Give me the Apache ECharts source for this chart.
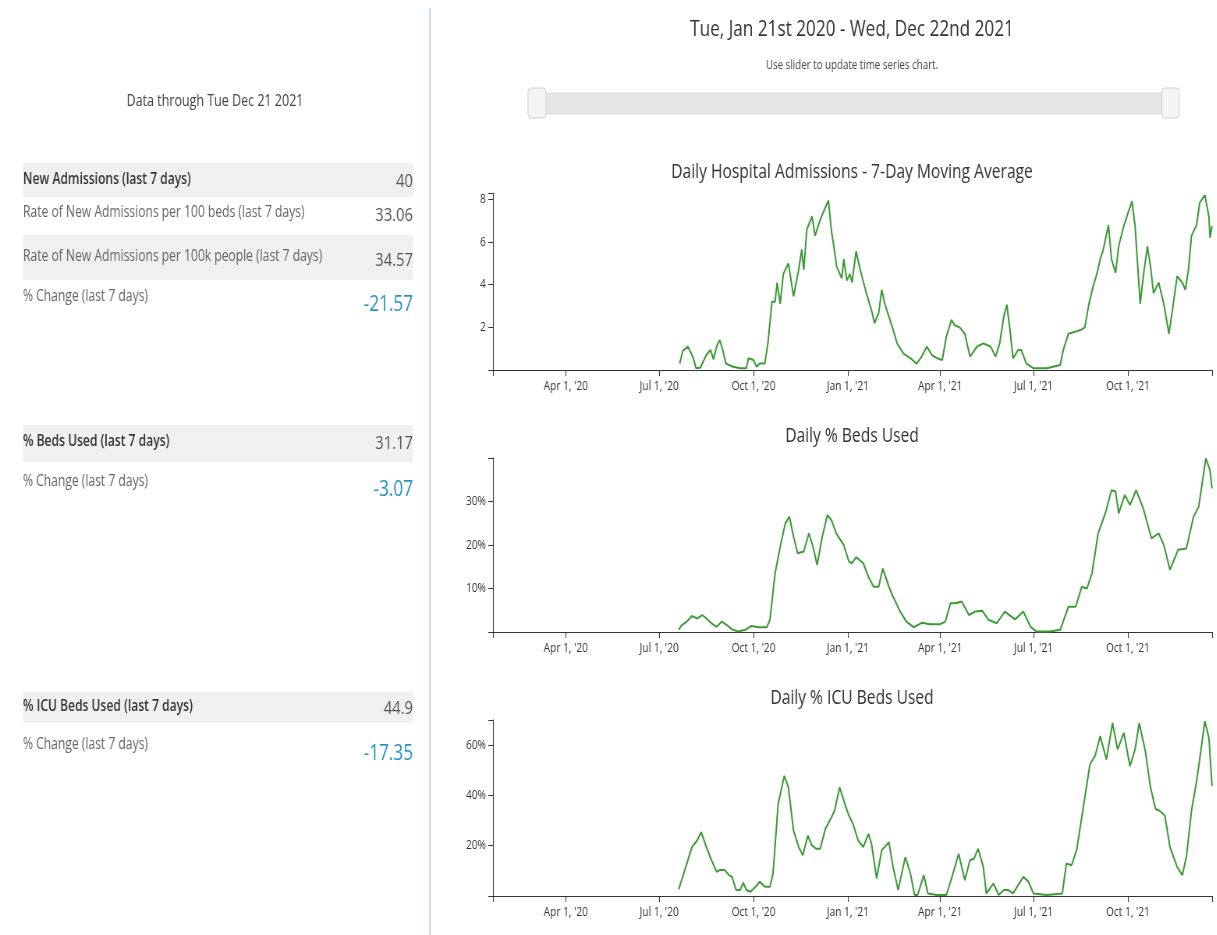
<!DOCTYPE html>
<html><head><meta charset="utf-8">
<script src="https://cdn.jsdelivr.net/npm/echarts@6.0.0/dist/echarts.min.js"></script>
<style>
html,body{margin:0;padding:0;overflow:hidden;background:#fff;width:1217px;height:935px}
#c{height:935px;transform-origin:0 0;}
</style></head><body><div id="c"></div>
<script>
// ---------------- DATA ----------------
const startDate = [2020, 0, 21];   // Tue, Jan 21 2020 (day 0)
const endDate = [2021, 11, 22];    // Wed, Dec 22 2021
const headerTitle = 'Tue, Jan 21st 2020 - Wed, Dec 22nd 2021';
const headerSubtitle = 'Use slider to update time series chart.';
const dataThrough = 'Data through Tue Dec 21 2021';

const summaryLabels = [
  'New Admissions (last 7 days)',
  'Rate of New Admissions per 100 beds (last 7 days)',
  'Rate of New Admissions per 100k people (last 7 days)',
  '% Change (last 7 days)',
  '% Beds Used (last 7 days)',
  '% Change (last 7 days)',
  '% ICU Beds Used (last 7 days)',
  '% Change (last 7 days)'
];
const summaryValues = ['40', '33.06', '34.57', '-21.57', '31.17', '-3.07', '44.9', '-17.35'];

const chartTitles = ['Daily Hospital Admissions - 7-Day Moving Average', 'Daily % Beds Used', 'Daily % ICU Beds Used'];
const monthNames = ['Jan','Feb','Mar','Apr','May','Jun','Jul','Aug','Sep','Oct','Nov','Dec'];
const xTickDates = [[2020,3,1],[2020,6,1],[2020,9,1],[2021,0,1],[2021,3,1],[2021,6,1],[2021,9,1]];
const yMax = [8.3, 40, 70];
const yTickLabels = [[2,4,6,8],[10,20,30],[20,40,60]];

// day offsets from startDate and values
const admDays = [182,185,190,195,198,202,208,212,215,218,221,224,227,234,241,247,249,254,257,260,265,268,272,275,277,280,283,288,293,298,301,303,306,311,314,319,323,327,330,332,335,340,342,345,348,350,354,358,364,369,372,376,379,382,387,390,394,400,407,413,418,423,428,433,438,442,447,450,455,460,465,472,478,485,490,494,498,501,504,507,512,515,520,527,540,553,556,561,568,574,577,581,585,589,592,595,600,603,607,610,615,620,623,626,631,634,638,641,644,649,654,659,662,667,672,675,678,681,686,689,694,698,699,701];
const admVals = [0.3,0.9,1.1,0.6,0.08,0.1,0.7,0.94,0.5,1.1,1.4,0.94,0.3,0.15,0.08,0.08,0.55,0.47,0.15,0.3,0.3,1.25,3.2,3.2,4.1,3.1,4.5,5.0,3.45,4.7,5.65,4.7,6.6,7.2,6.3,7.05,7.5,7.95,6.5,5.9,4.86,4.3,5.2,4.2,4.5,4.1,5.57,4.7,3.6,2.8,2.2,2.67,3.76,3.1,2.35,1.9,1.25,0.78,0.55,0.3,0.63,1.1,0.7,0.55,0.47,1.57,2.35,2.1,2.0,1.7,0.63,1.1,1.25,1.1,0.63,1.25,2.5,3.06,1.9,0.55,0.94,0.94,0.3,0.08,0.08,0.23,0.94,1.7,1.8,1.9,2.0,3.1,3.9,4.55,5.2,5.65,6.8,5.2,4.55,5.8,6.75,7.5,7.9,6.75,3.1,4.4,5.8,4.86,3.6,4.1,3.1,1.7,2.67,4.4,4.1,3.76,4.7,6.3,6.8,7.85,8.2,7.2,6.2,6.75];

const bedDays = [181,184,189,194,199,204,208,213,218,223,228,233,239,246,252,259,267,270,275,280,285,289,293,297,303,308,312,316,321,326,330,335,342,347,350,354,361,366,371,376,380,386,390,397,403,410,418,426,436,441,446,451,457,464,470,477,483,491,499,509,517,524,530,543,553,561,568,574,579,584,590,597,603,607,610,616,621,627,634,642,649,654,660,668,676,683,688,695,699,701];
const bedVals = [0.5,1.6,2.4,3.7,3.1,3.9,3.1,2.0,1.2,2.4,1.6,0.6,0.1,0.5,1.4,1.1,1.1,2.8,13.5,19.6,25,26.5,21.9,18.1,18.5,22.7,19.6,15.4,21.9,26.9,25.7,22.5,20,16.2,15.8,17.2,15.8,12.7,10.4,10.4,14.6,10.4,8.1,4.7,2.4,1.1,2.1,1.8,1.8,2.4,6.6,6.6,7.0,3.9,4.7,4.9,2.8,2.0,4.7,2.9,4.7,1.2,0.1,0.1,0.5,5.8,5.8,10.4,10,13.5,22.7,27.3,32.6,32.3,27.3,31.5,29.2,32.6,28.4,21.5,22.7,20.0,14.3,18.9,19.2,26.5,28.8,39.9,37.2,33];

const icuDays = [181,187,194,199,203,208,213,218,221,226,230,233,237,241,244,247,251,256,260,265,270,273,278,284,288,293,298,302,307,311,315,319,324,330,333,338,343,347,351,356,361,366,369,374,379,386,390,395,402,407,411,414,420,424,433,442,448,454,460,465,469,473,478,481,488,493,498,502,507,512,517,522,527,540,555,559,564,569,576,582,587,592,598,604,609,615,621,626,630,636,641,646,650,655,660,667,672,676,681,686,691,694,698,701];
const icuVals = [2.6,10.3,19.5,22.1,25.4,19.5,14.2,9.6,10.3,10.3,8.3,7.6,2.4,2.4,5.3,2.4,1.7,3.7,5.7,3.7,3.7,8.9,36.6,47.8,43.2,26,19.5,16.2,24,20.1,18.8,18.8,26.7,31.3,34,43.2,36.6,32,28.7,22.1,19.5,24.7,20.8,7,18.2,21.4,11.6,2.4,15.5,8.9,0.4,0.4,8.3,1,0.4,0.4,8.3,16.8,6.3,14.2,14.9,18.8,11.6,1,5,0.4,2.4,2.4,1,4.3,7.6,5.7,1,0.4,1,12.9,12.2,18.2,36.6,52.4,55.7,63.6,54.3,68.8,58.3,64.9,51.7,58.3,68.8,57.6,43.2,34.6,33.9,32,19.5,11.6,8.3,15.5,33.9,45.8,60.3,69.5,62.9,43.8];

// ---------------- RENDER ----------------
const SX = 0.78;                 // horizontal compression of the reference
const W = 1217 / SX;
const X = v => v / SX;
const el = document.getElementById('c');
el.style.width = W + 'px';
el.style.transform = 'scaleX(' + SX + ')';

const toTs = d => new Date(startDate[0], startDate[1], startDate[2] + d).getTime();
const xMin = new Date(startDate[0], startDate[1], startDate[2]).getTime();
const xMax = new Date(endDate[0], endDate[1], endDate[2]).getTime();
const xTicks = xTickDates.map(a => new Date(a[0], a[1], a[2]).getTime());
const fmtDate = v => { const d = new Date(v); return monthNames[d.getMonth()] + ' ' + d.getDate() + ', \'' + String(d.getFullYear()).slice(2); };

const FONT = 'Open Sans';
const AX = '#333';
const LINE = '#3b9a35';
const grids = [
  {left: X(493), top: 193, width: X(719), height: 177},
  {left: X(493), top: 458, width: X(719), height: 174},
  {left: X(493), top: 720, width: X(719), height: 176}
];
const seriesData = [
  admDays.map((d, i) => [toTs(d), admVals[i]]),
  bedDays.map((d, i) => [toTs(d), bedVals[i]]),
  icuDays.map((d, i) => [toTs(d), icuVals[i]])
];

const xAxes = grids.map((g, i) => ({
  type: 'value', gridIndex: i, min: xMin, max: xMax, scale: true,
  axisLine: {show: true, lineStyle: {color: AX, width: 1}},
  axisTick: {show: true, length: 6, lineStyle: {color: AX}, customValues: [xMin].concat(xTicks, [xMax])},
  axisLabel: {show: true, customValues: xTicks, formatter: fmtDate, fontFamily: FONT, fontSize: 13, color: '#333', margin: 10},
  splitLine: {show: false}
}));
const yAxes = grids.map((g, i) => ({
  type: 'value', gridIndex: i, min: 0, max: yMax[i],
  axisLine: {show: true, lineStyle: {color: AX, width: 1}},
  axisTick: {show: true, length: 6, lineStyle: {color: AX}, customValues: [0].concat(yTickLabels[i], [yMax[i]])},
  axisLabel: {show: true, customValues: yTickLabels[i], formatter: v => i === 0 ? String(v) : v + '%', fontFamily: FONT, fontSize: 13, color: '#333', margin: 9},
  splitLine: {show: false}
}));
const series = seriesData.map((d, i) => ({
  type: 'line', xAxisIndex: i, yAxisIndex: i, data: d, showSymbol: false, symbol: 'none',
  lineStyle: {color: LINE, width: 2}, silent: true
}));

function txt(x, y, text, opt) {
  opt = opt || {};
  return {type: 'text', silent: true, style: {
    x: X(x), y: y, text: text,
    textAlign: opt.align || 'left', align: opt.align || 'left',
    textVerticalAlign: 'middle', verticalAlign: 'middle',
    fontFamily: FONT, fontSize: opt.size || 14, fontWeight: opt.weight || 'normal',
    fill: opt.color || '#555'
  }};
}
function rect(x, y, w, h, fill, extra) {
  return {type: 'rect', silent: true, shape: {x: X(x), y: y, width: X(w), height: h, r: (extra && extra.r) || 0},
    style: {fill: fill, stroke: (extra && extra.stroke) || null, lineWidth: (extra && extra.lw) || 0}};
}

const graphics = [];
graphics.push({type: 'line', silent: true, shape: {x1: X(430), y1: 8, x2: X(430), y2: 935}, style: {stroke: '#c6d4e1', lineWidth: 2}});
graphics.push(txt(852, 30, headerTitle, {align: 'center', size: 22, color: '#333'}));
graphics.push(txt(852, 65, headerSubtitle, {align: 'center', size: 12.5, color: '#444'}));
graphics.push(rect(537, 93, 634, 21, '#e6e6e6', {stroke: '#dcdcdc', lw: 1, r: 3}));
graphics.push(rect(528, 88, 18, 30, '#f5f5f5', {stroke: '#cfcfcf', lw: 1, r: 4}));
graphics.push(rect(1162, 88, 17, 30, '#f5f5f5', {stroke: '#cfcfcf', lw: 1, r: 4}));
const titleY = [172, 436, 698];
chartTitles.forEach((t, i) => graphics.push(txt(852, titleY[i], t, {align: 'center', size: 20, color: '#333'})));
graphics.push(txt(215, 101, dataThrough, {align: 'center', size: 16, color: '#444'}));
const rowBg = [[163, 34], [235, 45], [425, 37], [692, 31]];
rowBg.forEach(b => graphics.push(rect(23, b[0], 390, b[1], '#f0f0f0')));
const labelY = [180, 213, 257, 297, 442, 482, 707, 745];
const valueY = [182, 216, 261, 305, 444, 490, 709, 754];
const boldRows = [0, 4, 6];
const changeRows = [3, 5, 7];
summaryLabels.forEach((l, i) => {
  const bold = boldRows.indexOf(i) >= 0;
  graphics.push(txt(23, labelY[i], l, {size: bold ? 15.5 : 15.5, weight: bold ? 600 : 'normal', color: bold ? '#333' : '#666'}));
});
summaryValues.forEach((v, i) => {
  const ch = changeRows.indexOf(i) >= 0;
  graphics.push(txt(413, valueY[i], v, {align: 'right', size: ch ? 22 : 19, color: ch ? '#2a93c2' : '#555'}));
});

const chart = echarts.init(el, null, {renderer: 'canvas', width: W, height: 935});
chart.setOption({
  animation: false,
  backgroundColor: '#fff',
  textStyle: {fontFamily: FONT},
  grid: grids,
  xAxis: xAxes,
  yAxis: yAxes,
  series: series,
  graphic: {elements: graphics}
});
</script></body></html>
